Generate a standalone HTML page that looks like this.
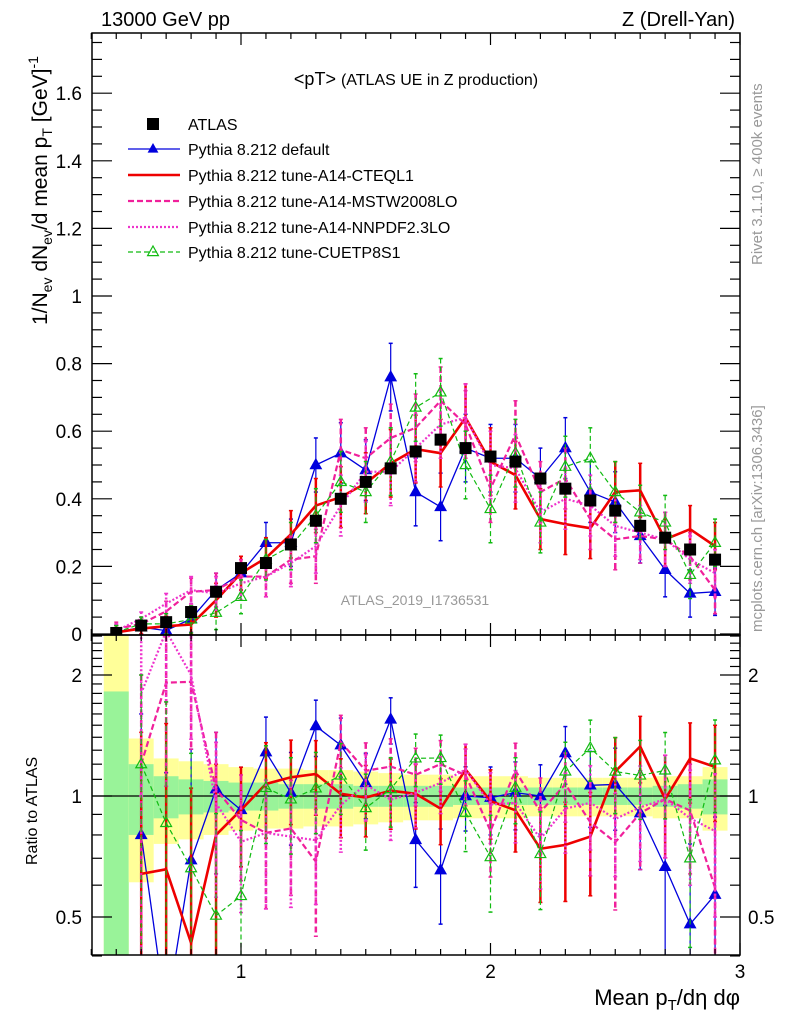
<!DOCTYPE html>
<html><head><meta charset="utf-8"><style>
html,body{margin:0;padding:0;background:#fff;width:786px;height:1024px;overflow:hidden;position:relative}
svg{display:block;font-family:"Liberation Sans",sans-serif;overflow:hidden}
</style></head><body>
<svg id="c" width="786" height="1024" viewBox="0 0 786 1024" style="position:absolute;left:0;top:0"></svg>
<script>
const xs=[0.5,0.6,0.7,0.8,0.9,1.0,1.1,1.2,1.3,1.4,1.5,1.6,1.7,1.8,1.9,2.0,2.1,2.2,2.3,2.4,2.5,2.6,2.7,2.8,2.9];
const atlas=[0.003,0.025,0.035,0.065,0.125,0.195,0.21,0.265,0.335,0.40,0.45,0.49,0.54,0.575,0.55,0.525,0.51,0.46,0.43,0.395,0.365,0.32,0.285,0.25,0.22];
const statErr=[0.82,0.2,0.12,0.1,0.09,0.08,0.08,0.07,0.07,0.07,0.06,0.06,0.06,0.06,0.05,0.05,0.05,0.05,0.05,0.05,0.05,0.05,0.06,0.07,0.1];
const totErr=[1.6,0.39,0.24,0.22,0.2,0.18,0.17,0.17,0.16,0.16,0.15,0.14,0.13,0.13,0.12,0.12,0.12,0.11,0.11,0.11,0.11,0.11,0.12,0.12,0.18];
const mcErr=[0.02,0.02,0.03,0.04,0.05,0.05,0.06,0.07,0.08,0.09,0.09,0.1,0.1,0.1,0.1,0.1,0.1,0.09,0.09,0.09,0.09,0.08,0.08,0.07,0.07];
const blue=[0.005,0.02,0.01,0.045,0.13,0.18,0.27,0.27,0.50,0.535,0.485,0.76,0.42,0.376,0.55,0.52,0.52,0.46,0.55,0.42,0.39,0.29,0.19,0.12,0.125];
const red=[0.005,0.016,0.023,0.028,0.10,0.18,0.225,0.295,0.38,0.405,0.446,0.505,0.547,0.535,0.64,0.51,0.47,0.34,0.325,0.313,0.42,0.425,0.28,0.31,0.26];
const mstw=[0.015,0.03,0.067,0.125,0.13,0.17,0.17,0.22,0.23,0.545,0.52,0.58,0.61,0.69,0.62,0.43,0.59,0.42,0.46,0.34,0.28,0.29,0.28,0.23,0.13];
const nnpdf=[0.01,0.045,0.09,0.13,0.12,0.15,0.17,0.21,0.26,0.38,0.48,0.48,0.55,0.62,0.64,0.50,0.49,0.36,0.40,0.38,0.32,0.30,0.28,0.22,0.18];
const cuetp=[0.005,0.03,0.03,0.043,0.063,0.11,0.22,0.26,0.35,0.45,0.42,0.51,0.67,0.715,0.50,0.37,0.535,0.33,0.495,0.52,0.42,0.36,0.33,0.175,0.27];
const yTicks=[0,0.2,0.4,0.6,0.8,1,1.2,1.4,1.6];
const yTickLabels=["0","0.2","0.4","0.6","0.8","1","1.2","1.4","1.6"];
const rTicks=[0.5,1,2];
const rTickLabels=["0.5","1","2"];
const xTicks=[1,2,3];
const xTickLabels=["1","2","3"];

const NS="http://www.w3.org/2000/svg";
const svg=document.getElementById('c');
const L=92,R=740,T1=33,B1=635,T2=635,B2=955;
const X=v=>241+(v-1)*249.5;
const Y=v=>634-v*338;
const RY=v=>796-Math.log2(v)*121;
const clampR=y=>Math.min(Math.max(y,T2-40),B2+40);
function el(t,a,p){const e=document.createElementNS(NS,t);for(const k in a)e.setAttribute(k,a[k]);(p||svg).appendChild(e);return e;}
function txt(s,a,p){const e=el('text',a,p);e.textContent=s;return e;}

const defs=el('defs',{});
const cp1=el('clipPath',{id:'cp1'},defs);el('rect',{x:L,y:T1,width:R-L,height:B1-T1},cp1);
const cp2=el('clipPath',{id:'cp2'},defs);el('rect',{x:L,y:T2,width:R-L,height:B2-T2},cp2);

const gBands=el('g',{'clip-path':'url(#cp2)'});


xs.forEach((x,i)=>{
  const x0=X(x-0.05),w=X(x+0.05)-x0;
  const lo=Math.max(1-totErr[i],0.38),hi=Math.min(1+totErr[i],2.6);
  const r=el('rect',{x:x0,y:RY(hi),width:w,height:RY(lo)-RY(hi),fill:'#ffff99'},gBands);
  
  
  const lo2=Math.max(1-statErr[i],0.38),hi2=1+statErr[i];
  const g=el('rect',{x:x0,y:RY(hi2),width:w,height:RY(lo2)-RY(hi2),fill:'#99f399'},gBands);
  
  
});
el('line',{x1:L,x2:R,y1:RY(1),y2:RY(1),stroke:'#000','stroke-width':1.2});

const series=[
 {name:'pythia-default',data:blue,color:'#0000dd',w:1.3,dash:'',marker:'tri-filled'},
 {name:'pythia-a14-cteql1',data:red,color:'#ee0000',w:2.6,dash:'',marker:'none'},
 {name:'pythia-a14-mstw2008lo',data:mstw,color:'#f0209b',w:2.2,dash:'6,3',marker:'none'},
 {name:'pythia-a14-nnpdf23lo',data:nnpdf,color:'#ee33cc',w:2.2,dash:'2,2',marker:'none'},
 {name:'pythia-cuetp8s1',data:cuetp,color:'#11bb11',w:1.2,dash:'5,3',marker:'tri-open'}
];
function tri(g,x,y,c,open,s){
  return el('path',{d:`M${x},${y-s}L${x+s*0.9},${y+s*0.6}L${x-s*0.9},${y+s*0.6}Z`,fill:open?'none':c,stroke:c,'stroke-width':1.2},g);
}
function drawSeries(s,panel){
  const g=el('g',{'clip-path':panel===1?'url(#cp1)':'url(#cp2)'});
  
  
  const pts=[];
  xs.forEach((x,i)=>{
    if(panel===2&&i===0)return;
    const v=s.data[i],a=atlas[i];
    let y,ylo,yhi;
    if(panel===1){y=Y(v);yhi=Y(v+mcErr[i]);ylo=Y(Math.max(v-mcErr[i],0));}
    else{const r=v/a,e=mcErr[i]/a;y=RY(r);yhi=clampR(RY(r+e));ylo=clampR(RY(Math.max(r-e,0.05)));}
    pts.push([X(x),y]);
    const eb=el('line',{x1:X(x),x2:X(x),y1:yhi,y2:ylo,stroke:s.color,'stroke-width':s.w>2?2.5:1.2,'stroke-dasharray':s.dash},g);
    
    
    el('line',{x1:X(x)-2,x2:X(x)+2,y1:yhi,y2:yhi,stroke:s.color,'stroke-width':1.5},g);
    el('line',{x1:X(x)-2,x2:X(x)+2,y1:ylo,y2:ylo,stroke:s.color,'stroke-width':1.5},g);
  });
  const pl=el('polyline',{points:pts.map(p=>p.join(',')).join(' '),fill:'none',stroke:s.color,'stroke-width':s.w,'stroke-dasharray':s.dash},g);
  
  
  if(s.marker!=='none')pts.forEach(p=>{
    if(panel===2&&(p[1]<T2-10||p[1]>B2+10))return;
    const m=tri(g,p[0],p[1],s.color,s.marker==='tri-open',6);
    
    
  });
}
series.forEach(s=>{drawSeries(s,1);drawSeries(s,2);});

const ga=el('g',{'clip-path':'url(#cp1)'});


xs.forEach((x,i)=>{
  const r=el('rect',{x:X(x)-6,y:Y(atlas[i])-6,width:12,height:12,fill:'#000'},ga);
  
  
});

[[T1,B1],[T2,B2]].forEach(([t,b],k)=>{
  const f=el('rect',{x:L,y:t,width:R-L,height:b-t,fill:'none',stroke:'#000','stroke-width':1.5});
  
  
  for(let v=0.4;v<=3.0001;v+=0.1){
    const major=Math.abs(v-Math.round(v))<1e-6;
    const len=major?12:6;
    el('line',{x1:X(v),x2:X(v),y1:b,y2:b-len,stroke:'#000','stroke-width':1.2});
    el('line',{x1:X(v),x2:X(v),y1:t,y2:t+len,stroke:'#000','stroke-width':1.2});
  }
});
for(let v=0;v<=1.76;v+=0.05){
  const major=Math.abs(v/0.2-Math.round(v/0.2))<1e-6;const len=major?20:10;
  el('line',{x1:L,x2:L+len,y1:Y(v),y2:Y(v),stroke:'#000','stroke-width':1.2});
  el('line',{x1:R,x2:R-len,y1:Y(v),y2:Y(v),stroke:'#000','stroke-width':1.2});
}
const rMinor=[0.4,0.5,0.6,0.7,0.8,0.9,1,1.1,1.2,1.3,1.4,1.5,1.6,1.7,1.8,1.9,2,2.1,2.2,2.3,2.4,2.5];
rMinor.forEach(v=>{
  const major=rTicks.includes(v);const len=major?20:10;
  el('line',{x1:L,x2:L+len,y1:RY(v),y2:RY(v),stroke:'#000','stroke-width':1.2});
  el('line',{x1:R,x2:R-len,y1:RY(v),y2:RY(v),stroke:'#000','stroke-width':1.2});
});
yTicks.forEach((v,i)=>{
  const t=txt(yTickLabels[i],{x:82,y:Y(v)+7,'font-size':19,'text-anchor':'end'});
  
  
});
rTicks.forEach((v,i)=>{
  const t=txt(rTickLabels[i],{x:82,y:RY(v)+7,'font-size':19,'text-anchor':'end'});
  
  
  const t2=txt(rTickLabels[i],{x:748,y:RY(v)+7,'font-size':19});
  
  
});
xTicks.forEach((v,i)=>{
  const t=txt(xTickLabels[i],{x:X(v),y:978,'font-size':19,'text-anchor':'middle'});
  
  
});
</script>
<svg width="786" height="1024" style="position:absolute;left:0;top:0;font-family:'Liberation Sans',sans-serif">
<text x="101" y="26" font-size="20">13000 GeV pp</text>
<text x="735" y="26" font-size="20" text-anchor="end">Z (Drell-Yan)</text>
<text x="416" y="85" font-size="18" text-anchor="middle">&lt;pT&gt; <tspan font-size="16">(ATLAS UE in Z production)</tspan></text>
<text x="415" y="605" font-size="14" fill="#999" text-anchor="middle">ATLAS_2019_I1736531</text>
<text transform="translate(762,265) rotate(-90)" font-size="15" fill="#999">Rivet 3.1.10, ≥ 400k events</text>
<text transform="translate(762,632) rotate(-90)" font-size="15" fill="#999">mcplots.cern.ch [arXiv:1306.3436]</text>
<text transform="translate(47,325) rotate(-90)" font-size="21">1/N<tspan font-size="14" dy="5">ev</tspan><tspan dy="-5"> dN</tspan><tspan font-size="14" dy="5">ev</tspan><tspan dy="-5">/d mean p</tspan><tspan font-size="14" dy="5">T</tspan><tspan dy="-5"> [GeV]</tspan><tspan font-size="14" dy="-9">-1</tspan></text>
<text transform="translate(37,865) rotate(-90)" font-size="16">Ratio to ATLAS</text>
<text x="740" y="1005" font-size="22" text-anchor="end">Mean p<tspan font-size="15" dy="5">T</tspan><tspan dy="-5">/dη dφ</tspan></text>
<g font-size="16">
 <g><rect x="147" y="118" width="12" height="12" fill="#000"/><text x="188" y="130">ATLAS</text></g>
 <g><line x1="128" x2="180" y1="149" y2="149" stroke="#0000dd" stroke-width="1.3"/><path d="M153,143L158.4,152.6L147.6,152.6Z" fill="#0000dd"/><text x="188" y="155">Pythia 8.212 default</text></g>
 <g><line x1="128" x2="180" y1="175" y2="175" stroke="#ee0000" stroke-width="2.6"/><text x="188" y="181">Pythia 8.212 tune-A14-CTEQL1</text></g>
 <g><line x1="128" x2="180" y1="201" y2="201" stroke="#f0209b" stroke-width="2.2" stroke-dasharray="6,3"/><text x="188" y="207">Pythia 8.212 tune-A14-MSTW2008LO</text></g>
 <g><line x1="128" x2="180" y1="227" y2="227" stroke="#ee33cc" stroke-width="2.2" stroke-dasharray="2,2"/><text x="188" y="233">Pythia 8.212 tune-A14-NNPDF2.3LO</text></g>
 <g><line x1="128" x2="180" y1="252" y2="252" stroke="#11bb11" stroke-width="1.2" stroke-dasharray="5,3"/><path d="M153,246L158.4,255.6L147.6,255.6Z" fill="none" stroke="#11bb11" stroke-width="1.2"/><text x="188" y="258">Pythia 8.212 tune-CUETP8S1</text></g>
</g>
</svg>
</body></html>
